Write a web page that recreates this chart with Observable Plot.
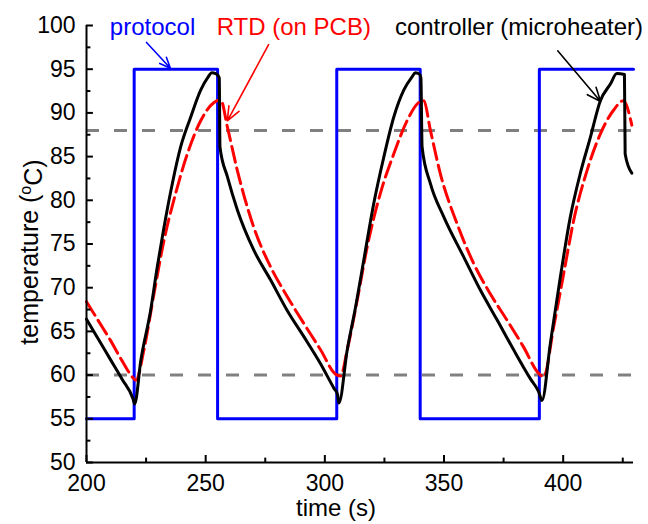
<!DOCTYPE html>
<html><head><meta charset="utf-8">
<script src="https://cdn.jsdelivr.net/npm/d3@7"></script>
<script src="https://cdn.jsdelivr.net/npm/@observablehq/plot@0.6"></script>
<style>body{margin:0;background:#fff}</style>
</head><body><div id="chart"></div>
<script>
// ---- data ----
const protocolTime = [200, 220, 220, 255, 255, 305, 305, 340, 340, 390, 390, 429.5];
const protocolTemp = [55, 55, 95, 95, 55, 55, 95, 95, 55, 55, 95, 95];

const controllerTime = [200, 205, 210, 215, 219.5, 220.2, 222.8, 226.9, 229.7, 232.5, 236, 239.5, 243.7, 247.9, 251, 252.6, 254.2, 255.4, 255.7, 256.0, 259.1, 263.3, 270.2, 277.2, 284.2, 291.2, 298.2, 303.8, 305.3, 305.9, 309.4, 312.9, 316.3, 320.5, 324.7, 328.9, 333.1, 336.5, 338, 339.8, 340.3, 340.8, 344.3, 349.9, 358.3, 365.3, 372.3, 379.2, 386.2, 389.7, 391.1, 394.6, 398.8, 403, 407.2, 411.4, 415.6, 419.8, 422.5, 425.7, 426.0, 428.8];
const controllerTemp = [66.4, 64.1, 61.8, 59.5, 57.3, 56.7, 61.7, 67.4, 72.4, 76.9, 81.9, 86.1, 89.5, 92.6, 94.1, 94.6, 94.5, 94.2, 94.0, 86.1, 82.7, 78.9, 74.3, 70.9, 67.4, 64.4, 61.3, 58.5, 57.8, 56.8, 62.9, 67.8, 73.1, 79.6, 84.9, 89.5, 92.6, 94.1, 94.6, 94.4, 94.0, 86.1, 81.9, 78.1, 73.5, 69.7, 66.3, 62.9, 59.6, 58.1, 57.1, 63.6, 71.2, 78.1, 83.1, 87.2, 91.4, 93.3, 94.5, 94.4, 85.3, 83.1];

const rtdTime = [200, 205, 210, 215, 219.5, 220.7, 224.1, 228.3, 232.5, 237.4, 242.3, 247.9, 253.5, 256.3, 259.1, 263.3, 270.2, 277.2, 284.2, 291.2, 298.2, 304.5, 306.6, 309.4, 313.6, 317.8, 323.3, 328.9, 334.5, 339.4, 341.5, 344.3, 348.5, 355.5, 362.4, 369.4, 376.4, 383.4, 389.7, 391.8, 396, 400.2, 404.4, 410, 415.6, 421.1, 425.3, 428.8];
const rtdTemp = [68.4, 66.2, 64.0, 61.6, 59.7, 59.4, 62.9, 69.3, 75.4, 80.8, 85.3, 89.1, 91.2, 91.5, 88.4, 83.4, 76.9, 72.4, 69.0, 65.9, 62.9, 60.1, 59.9, 62.9, 68.6, 74.7, 80.8, 85.3, 89.1, 91.2, 91.4, 88.0, 83.0, 77.3, 72.8, 69.3, 66.3, 63.2, 60.2, 59.8, 65.5, 71.6, 77.7, 83.4, 87.6, 90.3, 91.4, 88.6];

const refLevels = [88, 60];

const xTicks = [200, 250, 300, 350, 400];
const xMinorTicks = [225, 275, 325, 375, 425];
const yTicks = [50, 55, 60, 65, 70, 75, 80, 85, 90, 95, 100];
const yMinorTicks = [52.5, 57.5, 62.5, 67.5, 72.5, 77.5, 82.5, 87.5, 92.5, 97.5];

const labelNames = ["protocol", "RTD (on PCB)", "controller (microheater)"];
const labelColors = ["#0000ff", "#ff0000", "#000000"];
const labelX = [209.8, 254.6, 329.4];
const labelY = [98.86, 98.86, 98.86];
const arrowX1 = [225.2, 276.4, 397.7];
const arrowY1 = [98.06, 97.8, 97.1];
const arrowX2 = [235.2, 259.1, 415.7];
const arrowY2 = [95.1, 89.1, 91.3];

const xMin = 200, xMax = 429.5, yMin = 50, yMax = 100;

// ---- tables ----
const protocol = protocolTime.map((t, i) => ({t, v: protocolTemp[i]}));
const controller = controllerTime.map((t, i) => ({t, v: controllerTemp[i]}));
const rtd = rtdTime.map((t, i) => ({t, v: rtdTemp[i]}));
const labels = labelNames.map((name, i) => ({name, color: labelColors[i], x: labelX[i], y: labelY[i]}));
const arrows = labelNames.map((name, i) => ({color: labelColors[i], x1: arrowX1[i], y1: arrowY1[i], x2: arrowX2[i], y2: arrowY2[i]}));

const FONT = "'Liberation Sans', Arial, sans-serif";

const plot = Plot.plot({
  width: 648,
  height: 524,
  marginLeft: 86,
  marginRight: 15,
  marginTop: 25,
  marginBottom: 62,
  style: {fontFamily: FONT, fontSize: "23px", background: "#fff", color: "#000"},
  x: {domain: [xMin, xMax]},
  y: {domain: [yMin, yMax]},
  marks: [
    Plot.ruleY(refLevels, {x1: xMin, x2: xMax, stroke: "#808080", strokeWidth: 3, strokeDasharray: "13,15"}),
    Plot.line(protocol, {x: "t", y: "v", stroke: "#0000ff", strokeWidth: 3}),
    Plot.line(rtd, {x: "t", y: "v", stroke: "#ff0000", strokeWidth: 3, strokeDasharray: "16,6", curve: "monotone-x"}),
    Plot.line(controller, {x: "t", y: "v", stroke: "#000000", strokeWidth: 3, curve: "monotone-x"}),
    // axes lines
    Plot.ruleY([yMin], {x1: xMin, x2: xMax, stroke: "#000", strokeWidth: 2}),
    Plot.ruleX([xMin], {y1: yMin, y2: yMax, stroke: "#000", strokeWidth: 2}),
    // inward ticks
    Plot.ruleX(xTicks, {y1: yMin, y2: yMin + 0.8, stroke: "#000", strokeWidth: 2}),
    Plot.ruleX(xMinorTicks, {y1: yMin, y2: yMin + 0.5, stroke: "#000", strokeWidth: 2}),
    Plot.ruleY(yTicks, {x1: xMin, x2: xMin + 2.9, stroke: "#000", strokeWidth: 2}),
    Plot.ruleY(yMinorTicks, {x1: xMin, x2: xMin + 1.85, stroke: "#000", strokeWidth: 2}),
    Plot.axisX(xTicks, {tickSize: 0, tickPadding: 12, label: null, fontSize: 23}),
    Plot.axisY(yTicks, {tickSize: 0, tickPadding: 11, label: null, fontSize: 23}),
    // annotations
    Plot.arrow(arrows, {x1: "x1", y1: "y1", x2: "x2", y2: "y2", stroke: "color", strokeWidth: 1.6, headLength: 14, headAngle: 45}),
    Plot.text(labels, {x: "x", y: "y", text: "name", fill: "color", textAnchor: "start", lineAnchor: "bottom", fontSize: 24})
  ]
});

const svg = d3.select(plot);
svg.append("text")
  .attr("x", 336).attr("y", 516)
  .attr("text-anchor", "middle")
  .attr("font-family", FONT).attr("font-size", 24).attr("fill", "#000")
  .text("time (s)");
const yl = svg.append("text")
  .attr("transform", "translate(38,252) rotate(-90)")
  .attr("text-anchor", "middle")
  .attr("font-family", FONT).attr("font-size", 25).attr("fill", "#000");
yl.append("tspan").text("temperature (");
yl.append("tspan").attr("dy", "-0.45em").attr("font-size", 16).text("o");
yl.append("tspan").attr("dy", "0.45em").text("C)");

document.getElementById("chart").appendChild(plot);
</script>
</body></html>
